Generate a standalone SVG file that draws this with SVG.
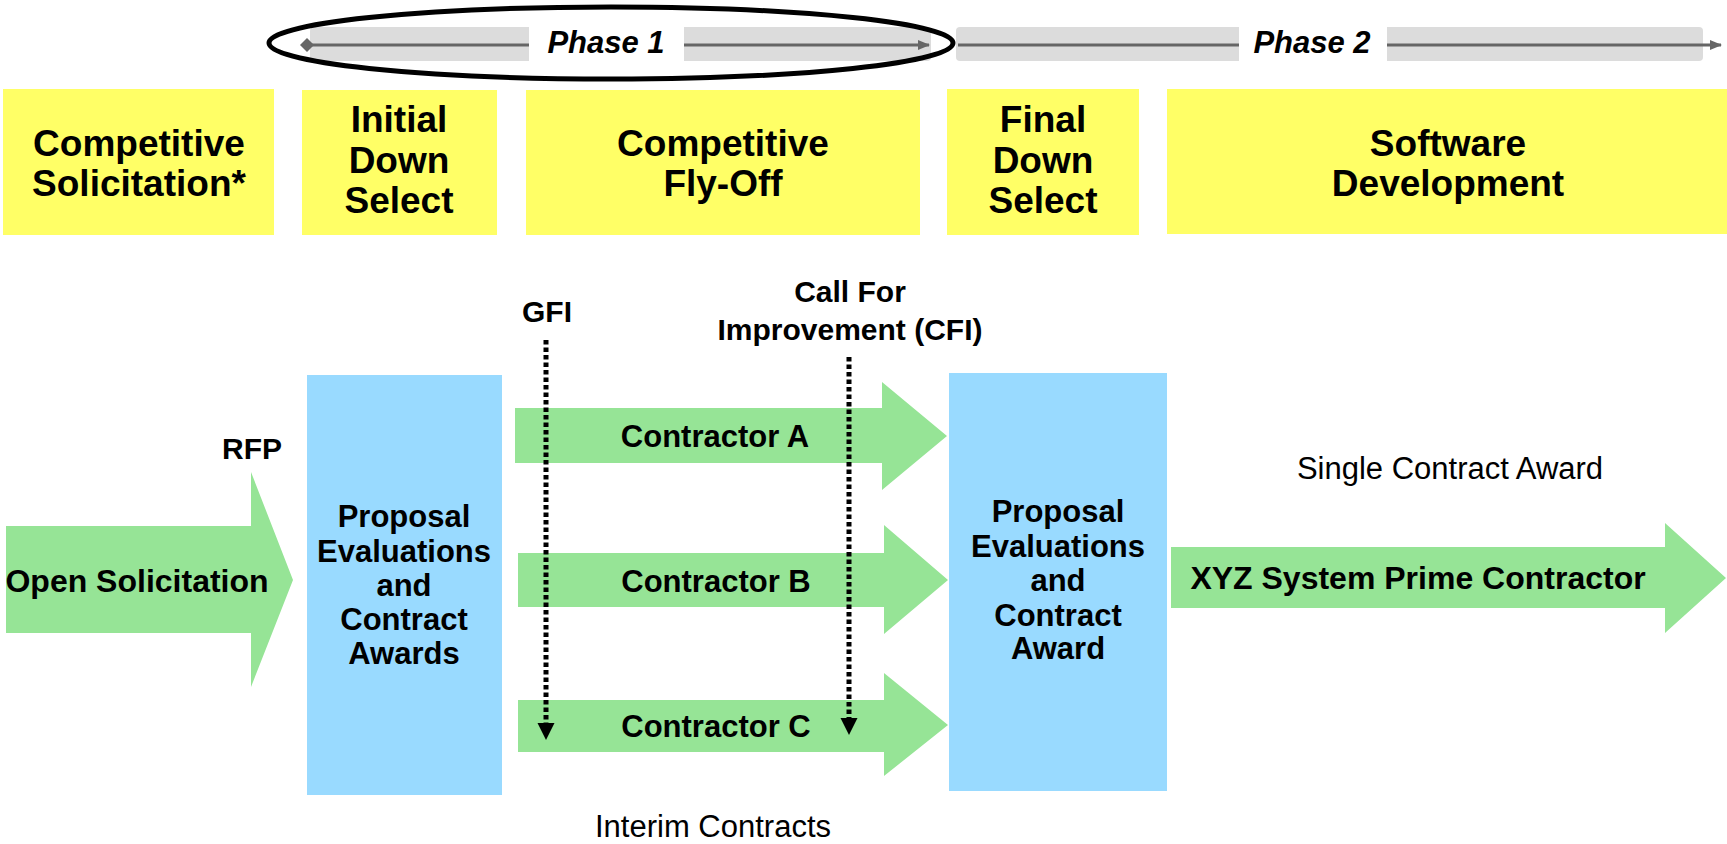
<svg xmlns="http://www.w3.org/2000/svg" width="1727" height="844" viewBox="0 0 1727 844">
<defs>
<style>
.y{fill:#ffff66}
.b{fill:#99daff}
.g{fill:#96e496}
.bar{fill:#dcdcdc}
.t{font-family:"Liberation Sans",Arial,sans-serif;font-weight:bold;fill:#000;text-anchor:middle}
.hd{font-size:37px}
.md{font-size:31px}
.r{font-family:"Liberation Sans",Arial,sans-serif;font-weight:normal;font-size:31px;fill:#000;text-anchor:middle}
.ph{font-family:"Liberation Sans",Arial,sans-serif;font-weight:bold;font-style:italic;font-size:31px;text-anchor:middle}
.pl{stroke:#666;stroke-width:3;fill:none}
.dot{stroke:#000;stroke-width:5;stroke-dasharray:4.5 3;fill:none}
</style>
<marker id="tri" markerWidth="12" markerHeight="12" refX="11" refY="5" orient="auto" markerUnits="userSpaceOnUse" viewBox="0 0 12 10"><path d="M0,0 L12,5 L0,10 Z" fill="#666"/></marker>
<marker id="dia" markerWidth="14" markerHeight="14" refX="7" refY="7" orient="auto" markerUnits="userSpaceOnUse" viewBox="0 0 14 14"><path d="M0,7 L7,0 L14,7 L7,14 Z" fill="#666"/></marker>
</defs>
<rect width="1727" height="844" fill="#fff"/>

<g id="phase1">
<rect class="bar" x="310" y="27" width="621" height="34" rx="4"/>
<line class="pl" x1="307" y1="45" x2="929" y2="45" marker-start="url(#dia)" marker-end="url(#tri)"/>
<rect x="529" y="25" width="155" height="38" fill="#fff"/>
<text class="ph" x="606" y="53">Phase 1</text>
</g>
<g id="phase2">
<rect class="bar" x="956" y="27" width="747" height="34" rx="4"/>
<line class="pl" x1="958" y1="45" x2="1721" y2="45" marker-end="url(#tri)"/>
<rect x="1239" y="25" width="148" height="38" fill="#fff"/>
<text class="ph" x="1312" y="53">Phase 2</text>
</g>
<g id="phase1-highlight">
<ellipse cx="611" cy="43" rx="342" ry="36" fill="none" stroke="#000" stroke-width="5"/>
</g>

<g id="stage-solicitation">
<rect class="y" x="3" y="89" width="271" height="146"/>
<text class="t hd" x="139" y="156">Competitive</text>
<text class="t hd" x="139" y="196">Solicitation*</text>
</g>
<g id="stage-initial">
<rect class="y" x="302" y="90" width="195" height="145"/>
<text class="t hd" x="399" y="132">Initial</text>
<text class="t hd" x="399" y="173">Down</text>
<text class="t hd" x="399" y="213">Select</text>
</g>
<g id="stage-flyoff">
<rect class="y" x="526" y="90" width="394" height="145"/>
<text class="t hd" x="723" y="156">Competitive</text>
<text class="t hd" x="723" y="196">Fly-Off</text>
</g>
<g id="stage-final">
<rect class="y" x="947" y="89" width="192" height="146"/>
<text class="t hd" x="1043" y="132">Final</text>
<text class="t hd" x="1043" y="173">Down</text>
<text class="t hd" x="1043" y="213">Select</text>
</g>
<g id="stage-software">
<rect class="y" x="1167" y="89" width="560" height="145"/>
<text class="t hd" x="1448" y="156">Software</text>
<text class="t hd" x="1448" y="196">Development</text>
</g>

<g id="open-solicitation">
<polygon class="g" points="6,526 251,526 251,472 293,580 251,687 251,633 6,633"/>
<text class="t" style="font-size:32px" x="137" y="592">Open Solicitation</text>
</g>
<g id="rfp-label"><text class="t" style="font-size:30px" x="252" y="459">RFP</text></g>

<g id="eval1">
<rect class="b" x="307" y="375" width="195" height="420"/>
<text class="t md" x="404" y="527">Proposal</text>
<text class="t md" x="404" y="562">Evaluations</text>
<text class="t md" x="404" y="596">and</text>
<text class="t md" x="404" y="630">Contract</text>
<text class="t md" x="404" y="664">Awards</text>
</g>

<g id="contractor-a">
<polygon class="g" points="515,408 882,408 882,382 947,436 882,490 882,463 515,463"/>
<text class="t md" x="715" y="447">Contractor A</text>
</g>
<g id="contractor-b">
<polygon class="g" points="518,553 884,553 884,525 948,580 884,634 884,607 518,607"/>
<text class="t md" x="716" y="592">Contractor B</text>
</g>
<g id="contractor-c">
<polygon class="g" points="518,700 884,700 884,673 948,725 884,776 884,752 518,752"/>
<text class="t md" x="716" y="737">Contractor C</text>
</g>

<g id="eval2">
<rect class="b" x="949" y="373" width="218" height="418"/>
<text class="t md" x="1058" y="522">Proposal</text>
<text class="t md" x="1058" y="557">Evaluations</text>
<text class="t md" x="1058" y="591">and</text>
<text class="t md" x="1058" y="626">Contract</text>
<text class="t md" x="1058" y="659">Award</text>
</g>

<g id="prime">
<polygon class="g" points="1171,547 1665,547 1665,523 1726,578 1665,633 1665,608 1171,608"/>
<text class="t" style="font-size:32px" x="1418" y="589">XYZ System Prime Contractor</text>
</g>

<g id="labels">
<text class="t" style="font-size:30px" x="547" y="322">GFI</text>
<text class="t" style="font-size:30px" x="850" y="302">Call For</text>
<text class="t" style="font-size:30px" x="850" y="340">Improvement (CFI)</text>
<text class="r" x="713" y="837">Interim Contracts</text>
<text class="r" x="1450" y="479">Single Contract Award</text>
</g>

<g id="connectors">
<line class="dot" x1="546" y1="340" x2="546" y2="724"/>
<polygon points="537.5,723 554.5,723 546,740" fill="#000"/>
<line class="dot" x1="849" y1="357" x2="849" y2="719"/>
<polygon points="840.5,718 857.5,718 849,735" fill="#000"/>
</g>
</svg>
